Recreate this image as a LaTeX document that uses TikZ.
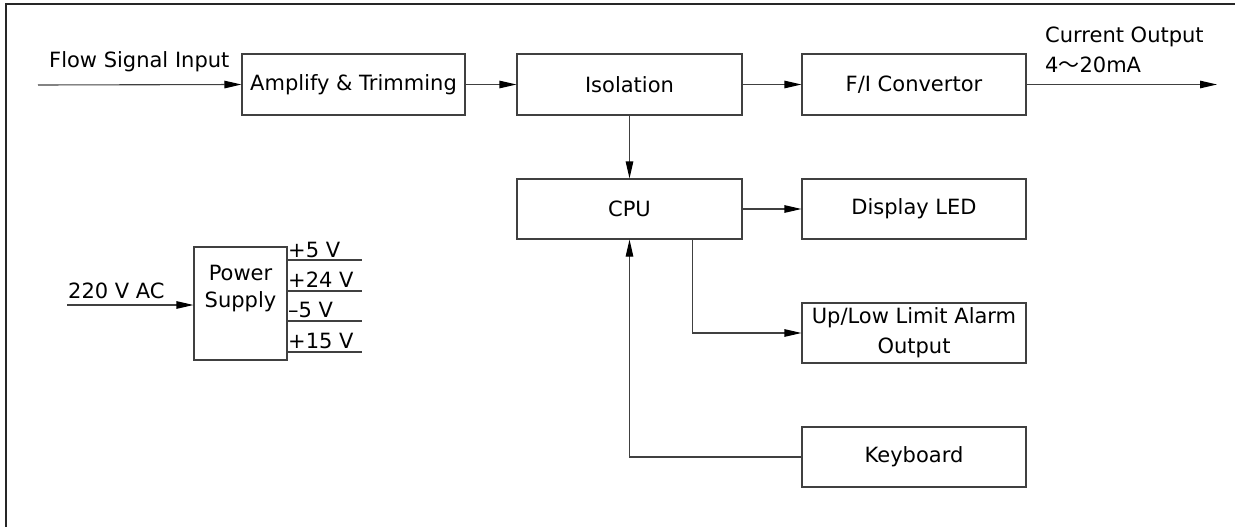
\documentclass[tikz,border=0pt]{standalone}
\usepackage{fontspec}
\setmainfont{DejaVu Sans}
\newfontfamily\cjkfont{Noto Sans CJK SC}
\usetikzlibrary{arrows.meta,calc}
\begin{document}
\begin{tikzpicture}[x=1pt,y=-1pt,
  txt/.style={font=\fontsize{21}{30}\selectfont},
  box/.style={txt, draw=black!75, line width=1.1pt, inner sep=0pt, align=center},
  lbl/.style={txt, inner sep=0pt},
  conn/.style={draw=black!75, line width=1.1pt},
  arr/.style={conn, -{Triangle[length=17pt,width=7.5pt,black]}}]
\useasboundingbox (0,0) rectangle (1235,527);
\draw[black!85, line width=1.5pt] (1235,4) -- (6,4) -- (6,527);

% boxes
\node[box, minimum width=223pt, minimum height=61pt] (amp) at (353.5,84.5) {Amplify \& Trimming};
\node[box, minimum width=225pt, minimum height=61pt] (iso) at (629.5,84.5) {Isolation};
\node[box, minimum width=224pt, minimum height=61pt] (fi) at (914,84.5) {F/I Convertor};
\node[box, minimum width=225pt, minimum height=60pt] (cpu) at (629.5,209) {CPU};
\node[box, minimum width=224pt, minimum height=60pt] (disp) at (914,209) {Display LED};
\node[box, minimum width=224pt, minimum height=60pt] (ul) at (914,333) {Up/Low Limit Alarm\\Output};
\node[box, minimum width=224pt, minimum height=60pt] (kb) at (914,457) {Keyboard};
\node[box, minimum width=93pt, minimum height=113pt] (ps) at (240.5,303.5) {};
\node[lbl, align=center, anchor=north, font=\fontsize{21}{27}\selectfont] (pst) at (240.5,264.5) {Power\\Supply};

% labels
\node[lbl, anchor=base west] (lfin) at (49,67) {Flow Signal Input};
\node[lbl, anchor=north west, align=left] (lout) at (1045,26.5) {Current Output\\4{\cjkfont ～}20mA};
\node[lbl, anchor=base west] (lac) at (68,298) {220 V AC};
\node[lbl, anchor=base west] (l5) at (288,257) {+5 V};
\node[lbl, anchor=base west] (l24) at (288,287) {+24 V};
\node[lbl, anchor=base west] (lm5) at (288,317) {–5 V};
\node[lbl, anchor=base west] (l15) at (288,348) {+15 V};

% coordinates
\coordinate (fin) at (38,85);
\coordinate (fout) at (1217,85);
\coordinate (acin) at (67,305);
\coordinate (v1) at (362,260);
\coordinate (v2) at (362,291);
\coordinate (v3) at (362,321);
\coordinate (v4) at (362,352);

% connectors
\draw[arr] (fin) -- (amp.west);
\draw[arr] (amp.east) -- (iso.west);
\draw[arr] (iso.east) -- (fi.west);
\draw[arr] (fi.east) -- (fi.east -| fout);
\draw[arr] (iso.south) -- (cpu.north);
\draw[arr] (cpu.east) -- (disp.west);
\draw[arr] ([xshift=-50pt]cpu.south east) |- (ul.west);
\draw[arr] (kb.west) -| (cpu.south);
\draw[arr] (acin) -- (acin -| ps.west);
\draw[conn] (v1 -| ps.east) -- (v1);
\draw[conn] (v2 -| ps.east) -- (v2);
\draw[conn] (v3 -| ps.east) -- (v3);
\draw[conn] (v4 -| ps.east) -- (v4);
\end{tikzpicture}
\end{document}
